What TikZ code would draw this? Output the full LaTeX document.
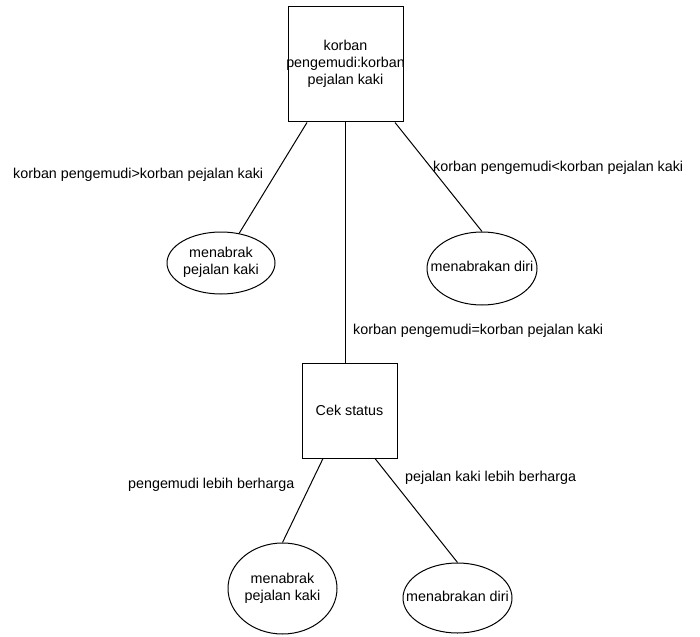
\documentclass[tikz,border=0pt]{standalone}
\usepackage{fontspec}
\setmainfont{Liberation Sans}
\usetikzlibrary{shapes.geometric}
\newcommand{\zw}[1]{\makebox[0pt]{\begin{tabular}{@{}c@{}}#1\end{tabular}}}
\begin{document}
\begin{tikzpicture}[x=1pt,y=-1pt,
  every node/.style={font=\fontsize{14.3}{17}\selectfont, text=black},
  boxnode/.style={draw, line width=1pt, rectangle, inner sep=0pt, align=center},
  ellnode/.style={draw, line width=1pt, ellipse, inner sep=0pt},
  lbl/.style={anchor=west, inner sep=0pt},
  conn/.style={line width=1pt}]
\useasboundingbox (0,0) rectangle (700,636);
\node[boxnode, minimum width=115, minimum height=115] (top) at (345.5,64.5) {\zw{korban\\pengemudi:korban\\pejalan kaki}};
\node[ellnode, minimum width=108, minimum height=62] (e1) at (221,263) {\zw{menabrak\\pejalan kaki}};
\node[ellnode, minimum width=110, minimum height=73] (e2) at (482,268.5) {\zw{menabrakan diri}};
\node[boxnode, minimum width=95, minimum height=95] (cek) at (349.5,410.5) {Cek status};
\node[ellnode, minimum width=109, minimum height=91] (e3) at (282.5,588.5) {\zw{menabrak\\pejalan kaki}};
\node[ellnode, minimum width=109, minimum height=70] (e4) at (457.5,598) {\zw{menabrakan diri}};
\draw[conn] ([xshift=-38.5]top.south) -- (e1);
\draw[conn] ([xshift=49.5]top.south) -- (e2.north);
\draw[conn] (top.south) -- (top.south |- cek.north);
\draw[conn] ([xshift=-26.5]cek.south) -- (e3.north);
\draw[conn] ([xshift=25.5]cek.south) -- (e4.north);
\node[lbl] (l1) at (13,175) {korban pengemudi>korban pejalan kaki};
\node[lbl] (l2) at (433,168) {korban pengemudi<korban pejalan kaki};
\node[lbl] (l3) at (353,331) {korban pengemudi=korban pejalan kaki};
\node[lbl] (l4) at (128,485) {pengemudi lebih berharga};
\node[lbl] (l5) at (405,478) {pejalan kaki lebih berharga};
\end{tikzpicture}
\end{document}
